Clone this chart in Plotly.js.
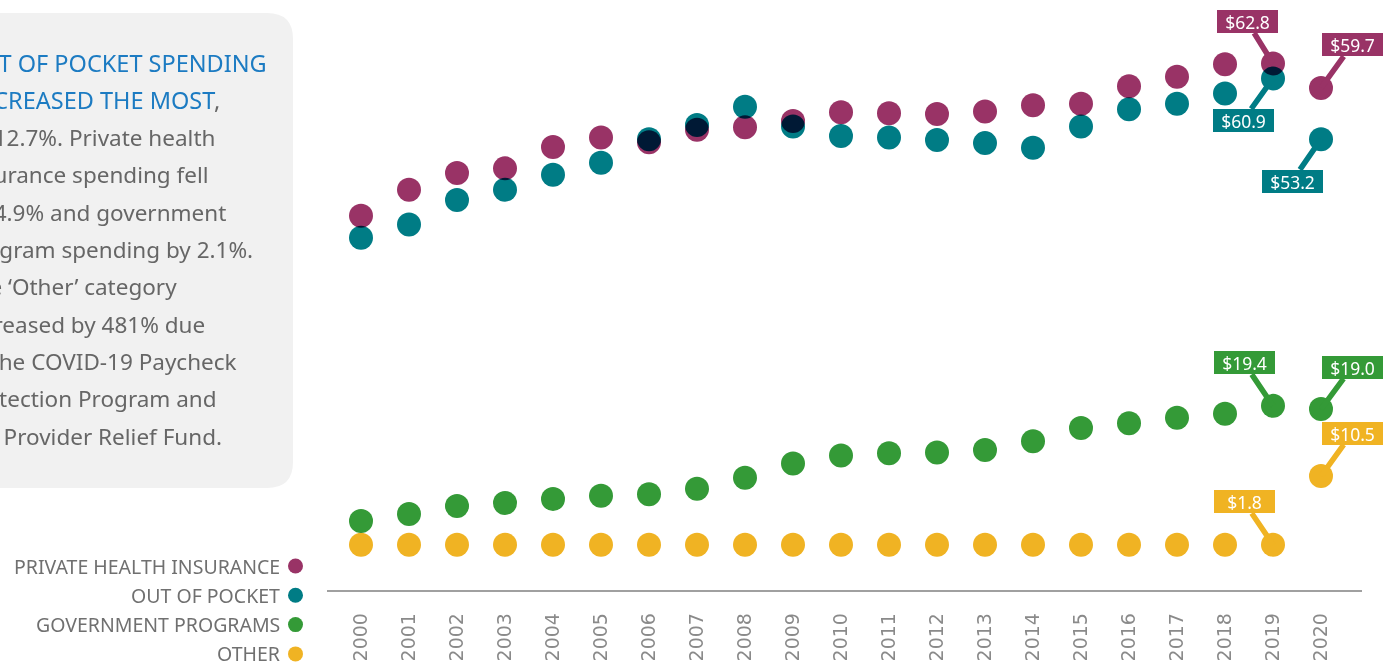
<!DOCTYPE html>
<html>
<head>
<meta charset="utf-8">
<script src="https://cdn.plot.ly/plotly-3.0.1.min.js"></script>
<style>
html,body{margin:0;padding:0;background:#fff;overflow:hidden}
#chart{width:1393px;height:664px}
.scatterlayer .points path{mix-blend-mode:multiply}
</style>
</head>
<body>
<div id="chart"></div>
<script>
// ---------- DATA ----------
const years = [2000,2001,2002,2003,2004,2005,2006,2007,2008,2009,2010,2011,2012,2013,2014,2015,2016,2017,2018,2019,2020];
const yearLabels = ["2000","2001","2002","2003","2004","2005","2006","2007","2008","2009","2010","2011","2012","2013","2014","2015","2016","2017","2018","2019","2020"];
const seriesNames = ["PRIVATE HEALTH INSURANCE","OUT OF POCKET","GOVERNMENT PROGRAMS","OTHER"];
const seriesColors = ["#993366","#007c85","#349a37","#f0b323"];
const privateHealthInsurance = [43.5,46.8,48.9,49.5,52.2,53.4,52.8,54.4,54.7,55.5,56.6,56.5,56.4,56.7,57.5,57.7,59.9,61.1,62.7,62.8,59.7];
const outOfPocket = [40.7,42.4,45.5,46.8,48.7,50.2,53.2,55.0,57.3,54.8,53.6,53.4,53.1,52.7,52.1,54.8,57.0,57.7,59.0,60.9,53.2];
const governmentPrograms = [4.8,5.7,6.7,7.1,7.6,8.0,8.2,8.9,10.3,12.1,13.1,13.4,13.5,13.8,14.9,16.6,17.2,17.9,18.4,19.4,19.0];
const other = [1.8,1.8,1.8,1.8,1.8,1.8,1.8,1.8,1.8,1.8,1.8,1.8,1.8,1.8,1.8,1.8,1.8,1.8,1.8,1.8,10.5];
const seriesValues = [privateHealthInsurance, outOfPocket, governmentPrograms, other];

const noteLines = [
  {text: "OUT OF POCKET SPENDING", title: true},
  {text: "DECREASED THE MOST<span style=\"color:#666666\">,</span>", title: true},
  {text: "by 12.7%. Private health"},
  {text: "insurance spending fell"},
  {text: "by 4.9% and government"},
  {text: "program spending by 2.1%."},
  {text: "The ‘Other’ category"},
  {text: "increased by 481% due"},
  {text: "to the COVID-19 Paycheck"},
  {text: "Protection Program and"},
  {text: "the Provider Relief Fund."}
];

// callouts: which series / year get a value label
const callouts = [
  {s:0, year:2019, ax:-26, ay:-42},
  {s:0, year:2020, ax:31,  ay:-43},
  {s:1, year:2019, ax:-30, ay:42},
  {s:1, year:2020, ax:-29, ay:42},
  {s:2, year:2019, ax:-29, ay:-43},
  {s:2, year:2020, ax:31,  ay:-42},
  {s:3, year:2019, ax:-29, ay:-43},
  {s:3, year:2020, ax:31,  ay:-43}
];

// ---------- LAYOUT HELPERS ----------
const W = 1393, H = 664;
const M = {l:327, r:31, t:0, b:74};
const PW = W - M.l - M.r, PH = H - M.t - M.b;
const PX = px => (px - M.l) / PW;
const PY = py => 1 - (py - M.t) / PH;
const FONT = "'Noto Sans', 'Open Sans', sans-serif";

// ---------- TRACES ----------
const traces = seriesNames.map((name, i) => ({
  type: "scatter",
  mode: "markers",
  name: name,
  x: years,
  y: seriesValues[i],
  marker: {size: 24, color: seriesColors[i], line: {width: 0}},
  cliponaxis: false,
  hoverinfo: "skip",
  showlegend: false
}));

// ---------- ANNOTATIONS & SHAPES ----------
const annotations = [];
const shapes = [];

// grey note box with rounded right corners
const bx0 = -20, bx1 = 293, by0 = 13, by1 = 488, r = 26;
shapes.push({
  type: "path", xref: "paper", yref: "paper", layer: "below",
  path: `M ${PX(bx0)} ${PY(by0)} L ${PX(bx1 - r)} ${PY(by0)} Q ${PX(bx1)} ${PY(by0)} ${PX(bx1)} ${PY(by0 + r)} ` +
        `L ${PX(bx1)} ${PY(by1 - r)} Q ${PX(bx1)} ${PY(by1)} ${PX(bx1 - r)} ${PY(by1)} L ${PX(bx0)} ${PY(by1)} Z`,
  fillcolor: "#f1f1f1", line: {width: 0}
});

noteLines.forEach((ln, i) => {
  annotations.push({
    xref: "paper", yref: "paper", x: PX(-39), y: PY(63 + 37.3 * i),
    xanchor: "left", yanchor: "middle", showarrow: false,
    text: ln.text, align: "left",
    font: {family: FONT, size: ln.title ? 23.5 : 22.5, color: ln.title ? "#1c7bc2" : "#666666"}
  });
});

// legend (text then dot)
seriesNames.forEach((name, i) => {
  const cy = 566 + 29.3 * i;
  annotations.push({
    xref: "paper", yref: "paper", x: PX(282), y: PY(cy),
    xanchor: "right", yanchor: "middle", showarrow: false,
    text: name, font: {family: FONT, size: 19.5, color: "#707070"}
  });
  shapes.push({
    type: "circle", xref: "paper", yref: "paper",
    x0: PX(288), x1: PX(303), y0: PY(cy + 7.5), y1: PY(cy - 7.5),
    fillcolor: seriesColors[i], line: {width: 0}
  });
});

// value callouts
callouts.forEach(c => {
  const v = seriesValues[c.s][years.indexOf(c.year)];
  annotations.push({
    x: c.year, y: v, xref: "x", yref: "y",
    text: "$" + v.toFixed(1),
    showarrow: true, arrowhead: 0, arrowwidth: 5.5, arrowcolor: seriesColors[c.s],
    ax: c.ax, ay: c.ay, standoff: 0,
    bgcolor: seriesColors[c.s], borderpad: 0, borderwidth: 0,
    width: 61, height: 23,
    font: {family: FONT, size: 17.5, color: "#ffffff"}
  });
});

const layout = {
  width: W, height: H,
  margin: M,
  paper_bgcolor: "#ffffff", plot_bgcolor: "#ffffff",
  showlegend: false,
  hovermode: false,
  xaxis: {
    type: "linear",
    range: [2000 - 34/48, 2000 - 34/48 + PW/48],
    tickmode: "array", tickvals: years, ticktext: yearLabels,
    tickangle: -90,
    ticks: "outside", ticklen: 14, tickcolor: "rgba(0,0,0,0)",
    tickfont: {family: "'DejaVu Sans', sans-serif", size: 19, color: "#8a8a8a"},
    showgrid: false, zeroline: false,
    showline: true, linecolor: "#a0a0a0", linewidth: 1.5,
    fixedrange: true
  },
  yaxis: {
    range: [-3.94, 70.84],
    visible: false, showgrid: false, zeroline: false, fixedrange: true
  },
  annotations: annotations,
  shapes: shapes
};

Plotly.newPlot("chart", traces, layout, {staticPlot: true, displayModeBar: false});
</script>
</body>
</html>
